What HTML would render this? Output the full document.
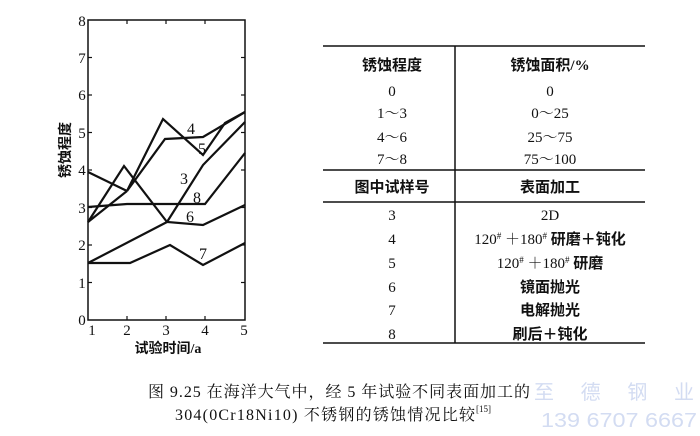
<!DOCTYPE html>
<html><head><meta charset="utf-8"><style>
html,body{margin:0;padding:0;background:#fff;}
svg{display:block;}
text{font-family:"Liberation Serif","Noto Serif CJK SC",serif;fill:#111;}
.c{font-family:"Liberation Serif","Noto Sans CJK SC",sans-serif;}
</style></head><body>
<svg width="700" height="436" viewBox="0 0 700 436" xmlns="http://www.w3.org/2000/svg">
<rect width="700" height="436" fill="#fff"/>
<g stroke="#111" stroke-width="1.5" fill="none">
<rect x="88" y="20" width="157" height="300"/>
</g>
<g stroke="#111" stroke-width="1.2">
<line x1="88" y1="282.5" x2="92" y2="282.5"/><line x1="241" y1="282.5" x2="245" y2="282.5"/>
<line x1="88" y1="245" x2="92" y2="245"/><line x1="241" y1="245" x2="245" y2="245"/>
<line x1="88" y1="207.5" x2="92" y2="207.5"/><line x1="241" y1="207.5" x2="245" y2="207.5"/>
<line x1="88" y1="170" x2="92" y2="170"/><line x1="241" y1="170" x2="245" y2="170"/>
<line x1="88" y1="132.5" x2="92" y2="132.5"/><line x1="241" y1="132.5" x2="245" y2="132.5"/>
<line x1="88" y1="95" x2="92" y2="95"/><line x1="241" y1="95" x2="245" y2="95"/>
<line x1="88" y1="57.5" x2="92" y2="57.5"/><line x1="241" y1="57.5" x2="245" y2="57.5"/>
<line x1="127" y1="20" x2="127" y2="24"/><line x1="127" y1="316" x2="127" y2="320"/>
<line x1="166" y1="20" x2="166" y2="24"/><line x1="166" y1="316" x2="166" y2="320"/>
<line x1="205" y1="20" x2="205" y2="24"/><line x1="205" y1="316" x2="205" y2="320"/>
</g>
<g font-size="15" text-anchor="middle">
<text x="82" y="325">0</text><text x="82" y="288">1</text><text x="82" y="250">2</text>
<text x="82" y="213">3</text><text x="82" y="175">4</text><text x="82" y="138">5</text>
<text x="82" y="100">6</text><text x="82" y="63">7</text><text x="82" y="26">8</text>
<text x="92" y="335">1</text><text x="127" y="335">2</text><text x="166" y="335">3</text>
<text x="205" y="335">4</text><text x="244" y="335">5</text>
</g>
<text class="c" x="168" y="353" font-size="14" text-anchor="middle" font-weight="bold">试验时间/a</text>
<text class="c" font-size="14" font-weight="bold" transform="translate(70,150) rotate(-90)" text-anchor="middle">锈蚀程度</text>
<g stroke="#111" stroke-width="2.2" fill="none" stroke-linejoin="miter">
<polyline points="88,172 127,191"/>
<polyline points="88,222 127,191"/>
<polyline points="127,191 163,119 203,155 225,123 245,112"/>
<polyline points="127,191 165,139 203,137 225,124 245,112"/>
<polyline points="88,222 124,166 167,222 203,225 245,205"/>
<polyline points="88,263 167,222 203,165 245,122"/>
<polyline points="88,207 127,204 205,204 245,153"/>
<polyline points="88,263 130,263 170,245 203,265 245,243"/>
</g>
<g font-size="16">
<text x="187" y="134">4</text><text x="198" y="154">5</text><text x="180" y="184">3</text>
<text x="193" y="203">8</text><text x="186" y="222">6</text><text x="199" y="259">7</text>
</g>
<g stroke="#111" stroke-width="1.5">
<line x1="323" y1="46" x2="645" y2="46"/>
<line x1="323" y1="170" x2="645" y2="170"/>
<line x1="323" y1="202" x2="645" y2="202"/>
<line x1="323" y1="343" x2="645" y2="343"/>
<line x1="455" y1="46" x2="455" y2="343"/>
</g>
<g font-size="15" text-anchor="middle">
<text class="c" x="392" y="70" font-weight="bold">锈蚀程度</text>
<text class="c" x="550" y="70" font-weight="bold">锈蚀面积/%</text>
<text x="392" y="96">0</text><text x="550" y="96">0</text>
<text x="392" y="118">1～3</text><text x="550" y="118">0～25</text>
<text x="392" y="142">4～6</text><text x="550" y="142">25～75</text>
<text x="392" y="164">7～8</text><text x="550" y="164">75～100</text>
<text class="c" x="392" y="192" font-weight="bold">图中试样号</text>
<text class="c" x="550" y="192" font-weight="bold">表面加工</text>
<text x="392" y="220">3</text><text x="550" y="220">2D</text>
<text x="392" y="244">4</text><text x="550" y="244">120<tspan font-size="9" dy="-5">#</tspan><tspan dy="5"> ＋180</tspan><tspan font-size="9" dy="-5">#</tspan><tspan class="c" dy="5" font-weight="bold"> 研磨＋钝化</tspan></text>
<text x="392" y="268">5</text><text x="550" y="268">120<tspan font-size="9" dy="-5">#</tspan><tspan dy="5"> ＋180</tspan><tspan font-size="9" dy="-5">#</tspan><tspan class="c" dy="5" font-weight="bold"> 研磨</tspan></text>
<text x="392" y="292">6</text><text class="c" x="550" y="292" font-weight="bold">镜面抛光</text>
<text x="392" y="315">7</text><text class="c" x="550" y="315" font-weight="bold">电解抛光</text>
<text x="392" y="339">8</text><text class="c" x="550" y="339" font-weight="bold">刷后＋钝化</text>
</g>
<text x="148" y="397" font-size="16" textLength="382" lengthAdjust="spacing">图 9.25  在海洋大气中，经 5 年试验不同表面加工的</text>
<text x="175" y="420" font-size="16" textLength="300" lengthAdjust="spacing">304(0Cr18Ni10) 不锈钢的锈蚀情况比较</text>
<text x="476" y="412" font-size="9">[15]</text>
<text class="c" x="534" y="399" font-size="20" style="fill:#d3dcf2" textLength="160" lengthAdjust="spacing">至 德 钢 业</text>
<text x="541" y="427" font-size="20" style="fill:#d3dcf2;font-family:'Liberation Sans',sans-serif" textLength="156" lengthAdjust="spacingAndGlyphs">139 6707 6667</text>
</svg>
</body></html>
